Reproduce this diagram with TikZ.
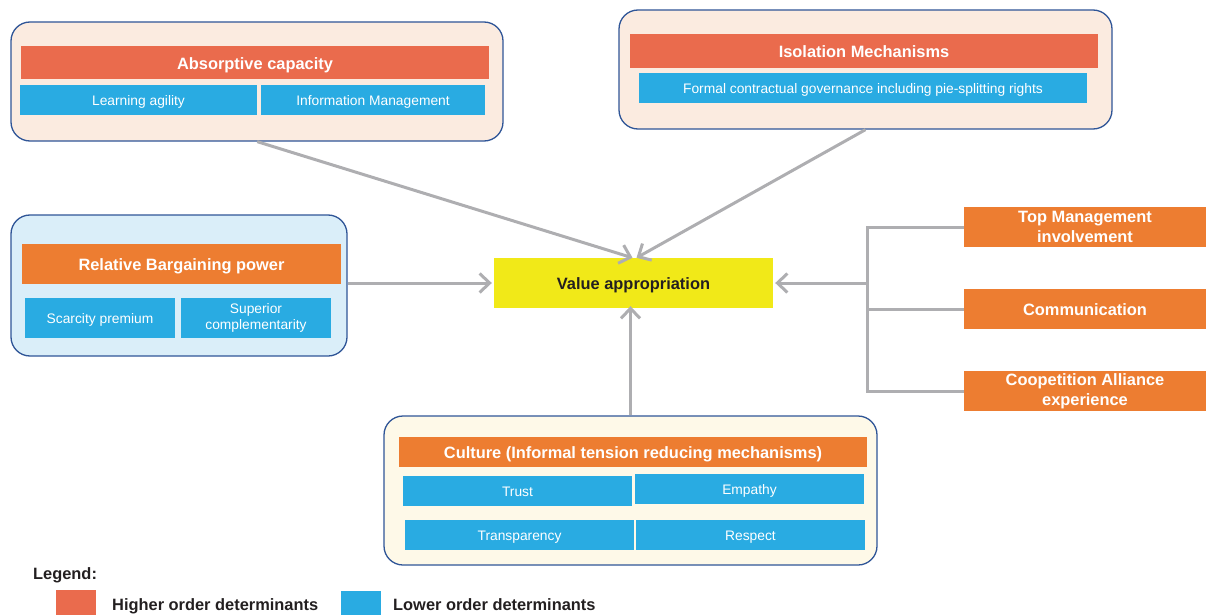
\documentclass[tikz,border=0pt]{standalone}
\usepackage{fontspec}
\setmainfont{Liberation Sans}
\usetikzlibrary{arrows.meta}
\definecolor{coral}{HTML}{EA6B4D}
\definecolor{orng}{HTML}{ED7D31}
\definecolor{skyb}{HTML}{29ABE2}
\definecolor{yell}{HTML}{F1E918}
\definecolor{frame}{HTML}{2F5597}
\definecolor{peach}{HTML}{FBEBE0}
\definecolor{paleblue}{HTML}{DAEEF9}
\definecolor{cream}{HTML}{FEF9E8}
\definecolor{conn}{HTML}{AEAEB1}
\definecolor{ink}{HTML}{231F20}
\tikzset{
  container/.style={draw=frame, line width=1.3pt, rounded corners=19pt, inner sep=0pt},
  % single text lines are centred on their capital height
  bigcaps/.style={text height=13.2pt, text depth=0pt},
  smallcaps/.style={text height=11.4pt, text depth=0pt},
  hibox/.style={fill=coral, text=white, inner sep=0pt, bigcaps, font=\bfseries\fontsize{16.4}{19}\selectfont},
  orbox/.style={fill=orng, text=white, inner sep=0pt, font=\bfseries\fontsize{16.4}{20}\selectfont},
  orline/.style={orbox, bigcaps},
  ortwo/.style={orbox, align=center},
  lobase/.style={fill=skyb, text=white, inner sep=0pt, font=\fontsize{13.8}{15.7}\selectfont},
  lobox/.style={lobase, smallcaps},
  lotwo/.style={lobase, align=center},
  valbox/.style={fill=yell, text=ink, inner sep=0pt, bigcaps, font=\bfseries\fontsize{16.4}{19}\selectfont},
  gline/.style={draw=conn, line width=3pt},
  arr/.style={gline, -{Straight Barb[length=10pt,width=19pt]}},
  legtext/.style={text=ink, anchor=west, inner sep=0pt, bigcaps, font=\bfseries\fontsize{16.4}{19}\selectfont}
}
\begin{document}
\begin{tikzpicture}[x=1pt,y=-1pt]
\useasboundingbox (0,0) rectangle (1206,615);

% Absorptive capacity group
\node[container, fill=peach, minimum width=492pt, minimum height=119pt] (absorb) at (257,81.5) {};
\node[hibox, minimum width=468pt, minimum height=33pt] (abst) at (255,62.5) {Absorptive capacity};
\node[lobox, minimum width=237pt, minimum height=30pt] (lagil) at (138.5,100) {Learning agility};
\node[lobox, minimum width=224pt, minimum height=30pt] (infom) at (373,100) {Information Management};

% Isolation mechanisms group
\node[container, fill=peach, minimum width=493pt, minimum height=119pt] (iso) at (865.5,69.5) {};
\node[hibox, minimum width=468pt, minimum height=34pt] (isot) at (864,51) {Isolation Mechanisms};
\node[lobox, minimum width=448pt, minimum height=30pt] (formal) at (863,88) {Formal contractual governance including pie-splitting rights};

% Relative bargaining power group
\node[container, fill=paleblue, minimum width=336pt, minimum height=141pt] (barg) at (179,285.5) {};
\node[orline, minimum width=319pt, minimum height=40pt] (bargt) at (181.5,264) {Relative Bargaining power};
\node[lobox, minimum width=150pt, minimum height=40pt] (scarce) at (100,318) {Scarcity premium};
\node[lotwo, minimum width=150pt, minimum height=40pt] (superior) at (256,318) {Superior\\complementarity};

% Central outcome
\node[valbox, minimum width=279pt, minimum height=50pt] (value) at (633.5,283) {Value appropriation};

% Right-hand determinants
\node[ortwo, minimum width=242pt, minimum height=40pt] (topm) at (1085,227) {Top Management\\involvement};
\node[orline, minimum width=242pt, minimum height=40pt] (comm) at (1085,309) {Communication};
\node[ortwo, minimum width=242pt, minimum height=40pt] (coop) at (1085,391) {Coopetition Alliance\\experience\vphantom{x}};

% Culture group
\node[container, fill=cream, minimum width=493pt, minimum height=149pt] (culture) at (630.5,490.5) {};
\node[orline, minimum width=468pt, minimum height=30pt] (cultt) at (633,452) {Culture (Informal tension reducing mechanisms)};
\node[lobox, minimum width=229pt, minimum height=30pt] (trust) at (517.5,491) {Trust};
\node[lobox, minimum width=229pt, minimum height=30pt] (empathy) at (749.5,489) {Empathy};
\node[lobox, minimum width=229pt, minimum height=30pt] (transp) at (519.5,535) {Transparency};
\node[lobox, minimum width=229pt, minimum height=30pt] (respect) at (750.5,535) {Respect};

% Connectors into the outcome
\draw[arr] (absorb.south -| lagil.east) -- ([xshift=-1pt]value.north);
\draw[arr] (iso.south) -- ([xshift=3pt]value.north);
\draw[arr] (barg.east |- value.west) -- ([xshift=-2pt]value.west);
\draw[arr] (culture.north) -- ([yshift=2pt]culture.north |- value.south);

% Bracket collecting the right-hand determinants
\draw[gline] (topm.west) -- ++(-96pt,0) coordinate (hub) -- (hub |- coop.west) -- (coop.west);
\draw[gline] (comm.west) -- (comm.west -| hub);
\draw[arr] (hub |- value.east) -- ([xshift=2pt]value.east);

% Legend
\node[legtext] (legend) at (33,572.5) {Legend:};
\node[fill=coral, minimum width=40pt, minimum height=25pt, inner sep=0pt] (hisq) at (76,602.5) {};
\node[legtext] (hilab) at (112,603.5) {Higher order determinants};
\node[fill=skyb, minimum width=40pt, minimum height=24pt, inner sep=0pt] (losq) at (361,603) {};
\node[legtext] (lolab) at (393,603.5) {Lower order determinants};
\end{tikzpicture}
\end{document}
